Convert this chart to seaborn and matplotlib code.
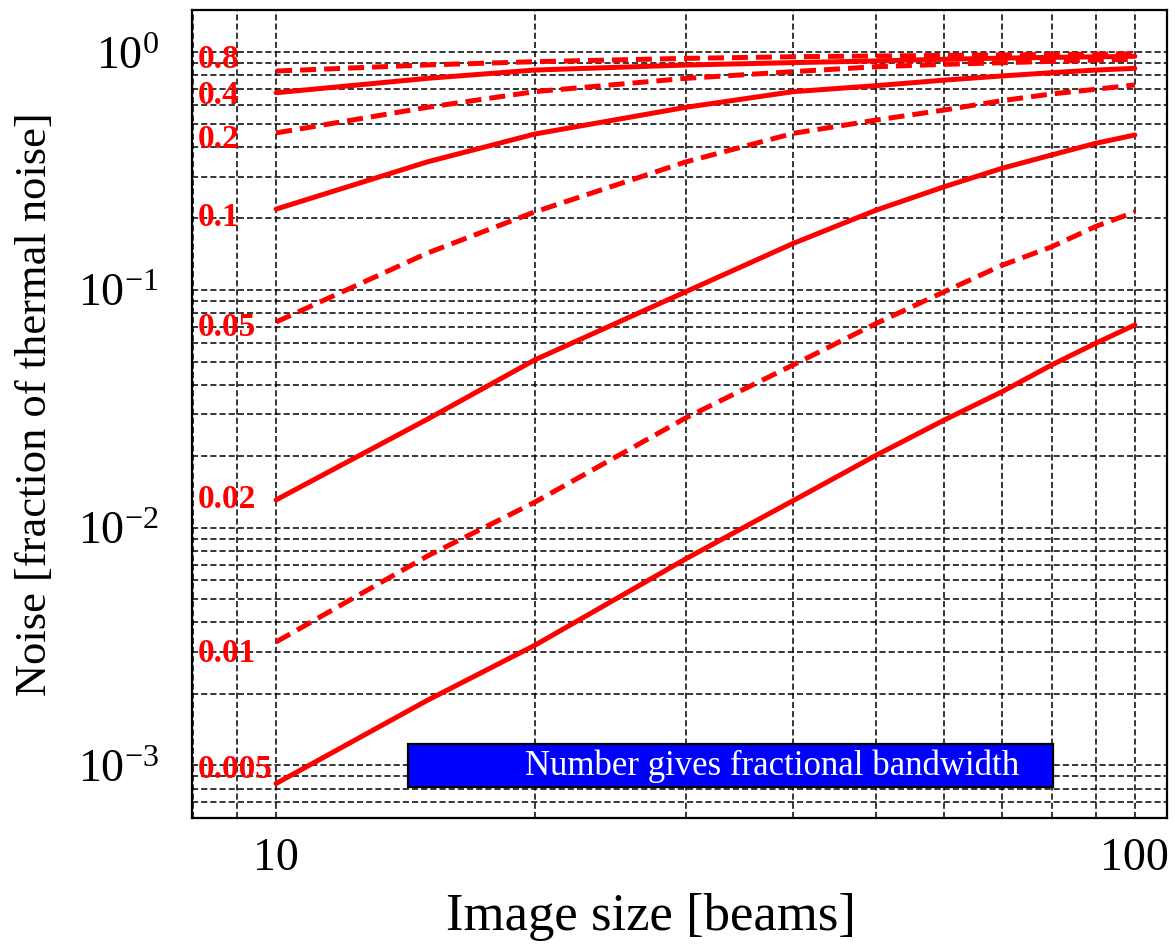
import matplotlib
matplotlib.use("Agg")
import matplotlib.pyplot as plt
from matplotlib.patches import Rectangle
from matplotlib.ticker import FixedLocator, FixedFormatter, LogLocator, NullFormatter
import pandas as pd
import seaborn as sns

# Image size in beams at which each curve is sampled
image_size = [10, 15, 20, 30, 40, 50, 60, 70, 80, 90, 100]

# Fractional bandwidth of each curve (also used as the curve label)
bandwidths = ["0.005", "0.01", "0.02", "0.05", "0.1", "0.2", "0.4", "0.8"]

# Noise as a fraction of thermal noise, one list per bandwidth
noise_0005 = [8.4e-4, 1.88e-3, 3.2e-3, 7.4e-3, 1.3e-2, 2.02e-2, 2.84e-2, 3.73e-2, 4.84e-2, 5.97e-2, 7.13e-2]
noise_001 = [3.31e-3, 7.6e-3, 1.28e-2, 2.9e-2, 4.84e-2, 7.24e-2, 9.84e-2, 0.127, 0.152, 0.185, 0.213]
noise_002 = [0.0131, 0.0286, 0.0508, 0.0984, 0.157, 0.217, 0.272, 0.325, 0.370, 0.414, 0.449]
noise_005 = [0.0734, 0.143, 0.213, 0.346, 0.456, 0.519, 0.572, 0.626, 0.668, 0.699, 0.729]
noise_01 = [0.219, 0.346, 0.453, 0.587, 0.683, 0.724, 0.764, 0.795, 0.821, 0.842, 0.856]
noise_02 = [0.458, 0.587, 0.683, 0.777, 0.829, 0.870, 0.890, 0.904, 0.916, 0.928, 0.934]
noise_04 = [0.676, 0.777, 0.842, 0.884, 0.905, 0.920, 0.935, 0.945, 0.952, 0.957, 0.962]
noise_08 = [0.834, 0.885, 0.913, 0.943, 0.958, 0.965, 0.970, 0.975, 0.979, 0.982, 0.985]

noise_curves = [noise_0005, noise_001, noise_002, noise_005,
                noise_01, noise_02, noise_04, noise_08]

# Alternate solid / dashed curves
dash_styles = {bw: ("" if i % 2 == 0 else (3.2, 1.6)) for i, bw in enumerate(bandwidths)}
# vertical nudge (points) of each curve label relative to the curve start
label_nudge = {"0.005": 10, "0.01": -8, "0.02": 0, "0.05": -4.3,
               "0.1": -5.8, "0.2": -5, "0.4": -2.2, "0.8": 8.6}

records = []
for bw, curve in zip(bandwidths, noise_curves):
    for s, n in zip(image_size, curve):
        records.append({"size": s, "noise": n, "bandwidth": bw})
df = pd.DataFrame(records)

sns.set_style("white")
plt.rcParams["font.family"] = ["Liberation Serif", "DejaVu Serif"]
plt.rcParams["mathtext.fontset"] = "custom"
plt.rcParams["mathtext.rm"] = "Liberation Serif"
plt.rcParams["mathtext.it"] = "Liberation Serif:italic"
plt.rcParams["mathtext.bf"] = "Liberation Serif:bold"
for key in ("text.color", "axes.labelcolor", "xtick.color", "ytick.color"):
    plt.rcParams[key] = "black"

fig = plt.figure(figsize=(11.75, 9.49), dpi=100)
ax = fig.add_axes([0.1634, 0.138, 0.8298, 0.8515])
ax.set_xscale("log")
ax.set_yscale("log")

sns.lineplot(data=df, x="size", y="noise", hue="bandwidth", style="bandwidth",
             palette={bw: "#ff0000" for bw in bandwidths}, dashes=dash_styles,
             hue_order=bandwidths, style_order=bandwidths,
             linewidth=3.6, legend=False, ax=ax, zorder=3)

ax.set_xlim(7.98, 109)
ax.set_ylim(6.01e-4, 1.507)

# Curve labels at the left end of each curve
for bw, curve in zip(bandwidths, noise_curves):
    ax.annotate(bw, xy=(8.1, curve[0]), xytext=(0, label_nudge[bw]),
                textcoords="offset points", color="#ff0000", fontweight="bold",
                fontsize=24, ha="left", va="center", zorder=4)

# Ticks and grid
ax.xaxis.set_major_locator(FixedLocator([10, 100]))
ax.xaxis.set_major_formatter(FixedFormatter(["10", "100"]))
ax.xaxis.set_minor_locator(LogLocator(base=10, subs=range(2, 10)))
ax.xaxis.set_minor_formatter(NullFormatter())
ax.yaxis.set_major_locator(FixedLocator([1e-3, 1e-2, 1e-1, 1]))
ax.yaxis.set_major_formatter(FixedFormatter([r"$10^{-3}$", r"$10^{-2}$", r"$10^{-1}$", r"$10^{0}$"]))
ax.yaxis.set_minor_locator(LogLocator(base=10, subs=range(2, 10)))
ax.yaxis.set_minor_formatter(NullFormatter())

ax.tick_params(axis="both", which="both", direction="in", length=4, color="black")
ax.tick_params(axis="x", which="major", labelsize=33, pad=14)
ax.tick_params(axis="y", which="major", labelsize=33, pad=24)

ax.set_axisbelow(True)
ax.grid(True, which="both", color="black", linewidth=1.1, linestyle=(0, (4, 2)))

for spine in ax.spines.values():
    spine.set_color("black")
    spine.set_linewidth(1.6)

ax.set_xlabel("Image size [beams]", fontsize=38)
ax.set_ylabel("Noise [fraction of thermal noise]", fontsize=32)
ax.xaxis.set_label_coords(0.471, -0.093)
ax.yaxis.set_label_coords(-0.14, 0.512)

# Caption box
ax.add_patch(Rectangle((0.2215, 0.0384), 0.6615, 0.0532, transform=ax.transAxes,
                       facecolor="#0000ff", edgecolor="black", linewidth=1.6, zorder=5))
ax.text(0.3415, 0.064, "Number gives fractional bandwidth", transform=ax.transAxes,
        color="white", fontsize=25, ha="left", va="center", zorder=6)

fig.savefig("out.png", dpi=100)
